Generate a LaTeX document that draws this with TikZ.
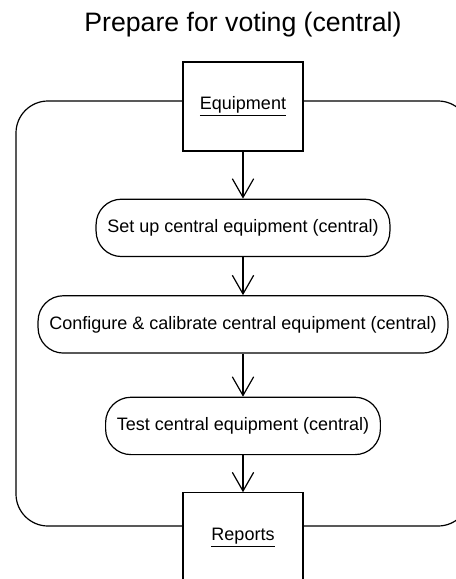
\documentclass[tikz,border=0pt]{standalone}
\usepackage{fontspec}
\setmainfont{Liberation Sans}
\usetikzlibrary{positioning,arrows.meta,backgrounds}
\tikzstyle{StoreBox}=[rectangle, draw=black, fill=white, line width=0.9pt, minimum width=90pt, minimum height=66.75pt, font=\fontsize{13.5}{16}\selectfont]
\tikzstyle{ActionBox}=[rectangle, rounded corners=19pt, draw=black, fill=white, line width=0.9pt, minimum height=43pt, inner xsep=8.5pt, font=\fontsize{13.5}{16}\selectfont]
\tikzstyle{Flow}=[draw=black, line width=0.9pt, -{Straight Barb[length=14pt,width=16pt,line width=0.9pt]}]

\begin{document}
\begin{tikzpicture}[x=0.75pt,y=-0.75pt]
			\useasboundingbox (0,0) rectangle (456,579);
			%Titulo
			\node[font=\fontsize{20}{24}\selectfont]	(title)	at (243,25)	{Prepare for voting (central)};

			%Nodos
			\node[StoreBox]		(equipment)		at (243,106.5)					{\underline{Equipment}};
			\node[ActionBox]		(setup)		[below=35.25pt of equipment]	{Set up central equipment (central)};
			\node[ActionBox]		(configure)	[below=28.5pt of setup]		{Configure \& calibrate central equipment (central)};
			\node[ActionBox]		(test)		[below=32.25pt of configure]	{Test central equipment (central)};
			\node[StoreBox]		(reports)		[below=27.75pt of test]		{\underline{Reports}};

			%Marco
			\begin{scope}[on background layer]
				\draw[line width=0.9pt, rounded corners=24pt] (16,101) rectangle (470,526);
			\end{scope}

			%Flechas
			\draw[Flow] (equipment) -- (setup);
			\draw[Flow] (setup) -- (configure);
			\draw[Flow] (configure) -- (test);
			\draw[Flow] (test) -- (reports);

		\end{tikzpicture}
\end{document}
